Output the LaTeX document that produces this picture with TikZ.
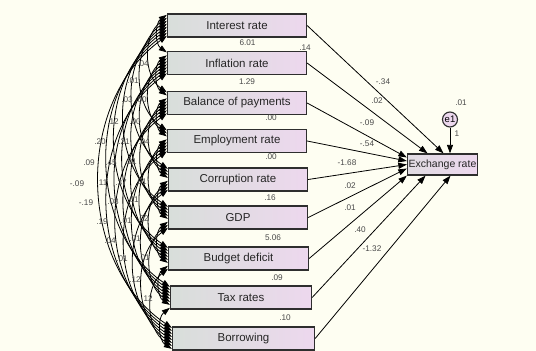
\documentclass[tikz,border=0pt]{standalone}
\usepackage{fontspec}
\setmainfont{Liberation Sans}
\usetikzlibrary{arrows.meta}
\definecolor{bgcol}{HTML}{FEFEF2}
\definecolor{boxl}{HTML}{D8DEDA}
\definecolor{boxr}{HTML}{EDD8EE}
\definecolor{numgray}{HTML}{4A4A4A}
\definecolor{framecol}{HTML}{2E2E2E}

\begin{document}
\begin{tikzpicture}[x=1pt,y=-1pt,
  varbox/.style={draw=framecol,line width=1.3pt,left color=boxl,right color=boxr,
    minimum width=139pt,minimum height=23pt,inner sep=0pt,
    font=\fontsize{11.5}{13}\selectfont,text=black!85},
  num/.style={inner sep=0pt,text=numgray,font=\fontsize{8.2}{9}\selectfont},
  cov/.style={line width=0.8pt,arrows={Triangle[length=8pt,width=5.5pt]-Triangle[length=8pt,width=5.5pt]},bend right=55},
  path/.style={line width=0.8pt,arrows={-Triangle[length=8.5pt,width=6pt]}}]

\useasboundingbox (0,0) rectangle (536,351);
\fill [bgcol] (0,0) rectangle (536,351);

% observed variables
\node [varbox] (b1) at (237,25.5) {Interest rate};
\node [varbox] (b2) at (237,63) {Inflation rate};
\node [varbox] (b3) at (237,103) {Balance of payments};
\node [varbox] (b4) at (237,141) {Employment rate};
\node [varbox] (b5) at (238,179.5) {Corruption rate};
\node [varbox] (b6) at (238,217.5) {GDP};
\node [varbox,minimum width=140pt] (b7) at (238.5,258.5) {Budget deficit};
\node [varbox,minimum width=141pt] (b8) at (241,297.5) {Tax rates};
\node [varbox,minimum width=142pt] (b9) at (243.5,338.5) {Borrowing};

\node [varbox,minimum width=70pt,minimum height=21pt,font=\fontsize{10.5}{12}\selectfont,
  left color=boxl!60!boxr] (ex) at (442.5,164.5) {Exchange rate};
\node [draw=framecol,line width=1.1pt,circle,fill=boxr,minimum size=15pt,inner sep=0pt,
  font=\fontsize{9.5}{10}\selectfont] (e1) at (450,119.5) {e1};

% covariances
\draw [cov] ([yshift=-1.5pt]b1.north west) to ([yshift=-1.5pt]b2.north west);
\draw [cov] ([yshift=-4.5pt]b1.north west) to ([yshift=-1.5pt]b3.north west);
\draw [cov] ([yshift=-7.5pt]b1.north west) to ([yshift=-1.5pt]b4.north west);
\draw [cov] ([yshift=-10.5pt]b1.north west) to ([yshift=-1.5pt]b5.north west);
\draw [cov] ([yshift=-13.5pt]b1.north west) to ([yshift=-1.5pt]b6.north west);
\draw [cov] ([yshift=-16.5pt]b1.north west) to ([yshift=-1.5pt]b7.north west);
\draw [cov] ([yshift=-19.5pt]b1.north west) to ([yshift=-1.5pt]b8.north west);
\draw [cov] ([yshift=-22.5pt]b1.north west) to ([yshift=-1.5pt]b9.north west);

\draw [cov] ([yshift=-4.5pt]b2.north west) to ([yshift=-4.5pt]b3.north west);
\draw [cov] ([yshift=-7.5pt]b2.north west) to ([yshift=-4.5pt]b4.north west);
\draw [cov] ([yshift=-10.5pt]b2.north west) to ([yshift=-4.5pt]b5.north west);
\draw [cov] ([yshift=-13.5pt]b2.north west) to ([yshift=-4.5pt]b6.north west);
\draw [cov] ([yshift=-16.5pt]b2.north west) to ([yshift=-4.5pt]b7.north west);
\draw [cov] ([yshift=-19.5pt]b2.north west) to ([yshift=-4.5pt]b8.north west);
\draw [cov] ([yshift=-22.5pt]b2.north west) to ([yshift=-4.5pt]b9.north west);

\draw [cov] ([yshift=-7.5pt]b3.north west) to ([yshift=-7.5pt]b4.north west);
\draw [cov] ([yshift=-10.5pt]b3.north west) to ([yshift=-7.5pt]b5.north west);
\draw [cov] ([yshift=-13.5pt]b3.north west) to ([yshift=-7.5pt]b6.north west);
\draw [cov] ([yshift=-16.5pt]b3.north west) to ([yshift=-7.5pt]b7.north west);
\draw [cov] ([yshift=-19.5pt]b3.north west) to ([yshift=-7.5pt]b8.north west);
\draw [cov] ([yshift=-22.5pt]b3.north west) to ([yshift=-7.5pt]b9.north west);

\draw [cov] ([yshift=-10.5pt]b4.north west) to ([yshift=-10.5pt]b5.north west);
\draw [cov] ([yshift=-13.5pt]b4.north west) to ([yshift=-10.5pt]b6.north west);
\draw [cov] ([yshift=-16.5pt]b4.north west) to ([yshift=-10.5pt]b7.north west);
\draw [cov] ([yshift=-19.5pt]b4.north west) to ([yshift=-10.5pt]b8.north west);
\draw [cov] ([yshift=-22.5pt]b4.north west) to ([yshift=-10.5pt]b9.north west);

\draw [cov] ([yshift=-13.5pt]b5.north west) to ([yshift=-13.5pt]b6.north west);
\draw [cov] ([yshift=-16.5pt]b5.north west) to ([yshift=-13.5pt]b7.north west);
\draw [cov] ([yshift=-19.5pt]b5.north west) to ([yshift=-13.5pt]b8.north west);
\draw [cov] ([yshift=-22.5pt]b5.north west) to ([yshift=-13.5pt]b9.north west);

\draw [cov] ([yshift=-16.5pt]b6.north west) to ([yshift=-16.5pt]b7.north west);
\draw [cov] ([yshift=-19.5pt]b6.north west) to ([yshift=-16.5pt]b8.north west);
\draw [cov] ([yshift=-22.5pt]b6.north west) to ([yshift=-16.5pt]b9.north west);

\draw [cov] ([yshift=-19.5pt]b7.north west) to ([yshift=-19.5pt]b8.north west);
\draw [cov] ([yshift=-22.5pt]b7.north west) to ([yshift=-19.5pt]b9.north west);

\draw [cov] ([yshift=-22.5pt]b8.north west) to ([yshift=-22.5pt]b9.north west);

% regression paths
\draw [path] (b1.east) -- ([xshift=1pt]ex.north);
\draw [path] (b2.east) -- ([xshift=-15pt]ex.north);
\draw [path] (b3.east) -- ([yshift=7pt]ex.west);
\draw [path] (b4.east) -- ([yshift=3.5pt]ex.west);
\draw [path] (b5.east) -- (ex.west);
\draw [path] (b6.east) -- ([yshift=-4pt]ex.west);
\draw [path] (b7.east) -- (ex.south west);
\draw [path] (b8.east) -- ([xshift=-17pt]ex.south);
\draw [path] (b9.east) -- ([xshift=8pt]ex.south);
\draw [path] (e1) -- (e1 |- ex.north);

% path weights
\node [num] (p1) at (383,82) {-.34};
\node [num] (p2) at (377,101) {.02};
\node [num] (p3) at (367,123) {-.09};
\node [num] (p4) at (367,144) {-.54};
\node [num] (p5) at (347,163) {-1.68};
\node [num] (p6) at (350,186) {.02};
\node [num] (p7) at (350,208) {.01};
\node [num] (p8) at (360,230) {.40};
\node [num] (p9) at (372,249) {-1.32};
\node [num] (pe) at (457,134) {1};
\node [num] (ve) at (461,103) {.01};

% variances
\node [num] (v1) at (247.5,43) {6.01};
\node [num] (v0) at (305,48) {.14};
\node [num] (v2) at (247,82) {1.29};
\node [num] (v3) at (271,118) {.00};
\node [num] (v4) at (271,157) {.00};
\node [num] (v5) at (270,198) {.16};
\node [num] (v6) at (273,238) {5.06};
\node [num] (v7) at (277,278) {.09};
\node [num] (v8) at (285,318) {.10};

% covariance values
\node [num] (c1) at (143,64) {.04};
\node [num] (c2) at (133,81) {.01};
\node [num] (c3) at (127,100) {.03};
\node [num] (c4) at (141,100) {.00};
\node [num] (c5) at (113,122) {.12};
\node [num] (c6) at (135,122) {.00};
\node [num] (c7) at (100,142) {.20};
\node [num] (c8) at (124,142) {.21};
\node [num] (c9) at (144,142) {.04};
\node [num] (c10) at (89,163) {.09};
\node [num] (c11) at (111,163) {.45};
\node [num] (c12) at (131,162) {.21};
\node [num] (c13) at (77,184) {-.09};
\node [num] (c14) at (102,183) {.11};
\node [num] (c15) at (121,183) {.37};
\node [num] (c16) at (141,182) {.01};
\node [num] (c17) at (86,203) {-.19};
\node [num] (c18) at (113,202) {.08};
\node [num] (c19) at (133,200) {.01};
\node [num] (c20) at (102,222) {.19};
\node [num] (c21) at (126,221) {.01};
\node [num] (c22) at (143,219) {.02};
\node [num] (c23) at (110,241) {.04};
\node [num] (c24) at (135,239) {.01};
\node [num] (c25) at (122,259) {.01};
\node [num] (c26) at (144,258) {.01};
\node [num] (c27) at (135,280) {.12};
\node [num] (c28) at (147,299) {.12};

\end{tikzpicture}
\end{document}
